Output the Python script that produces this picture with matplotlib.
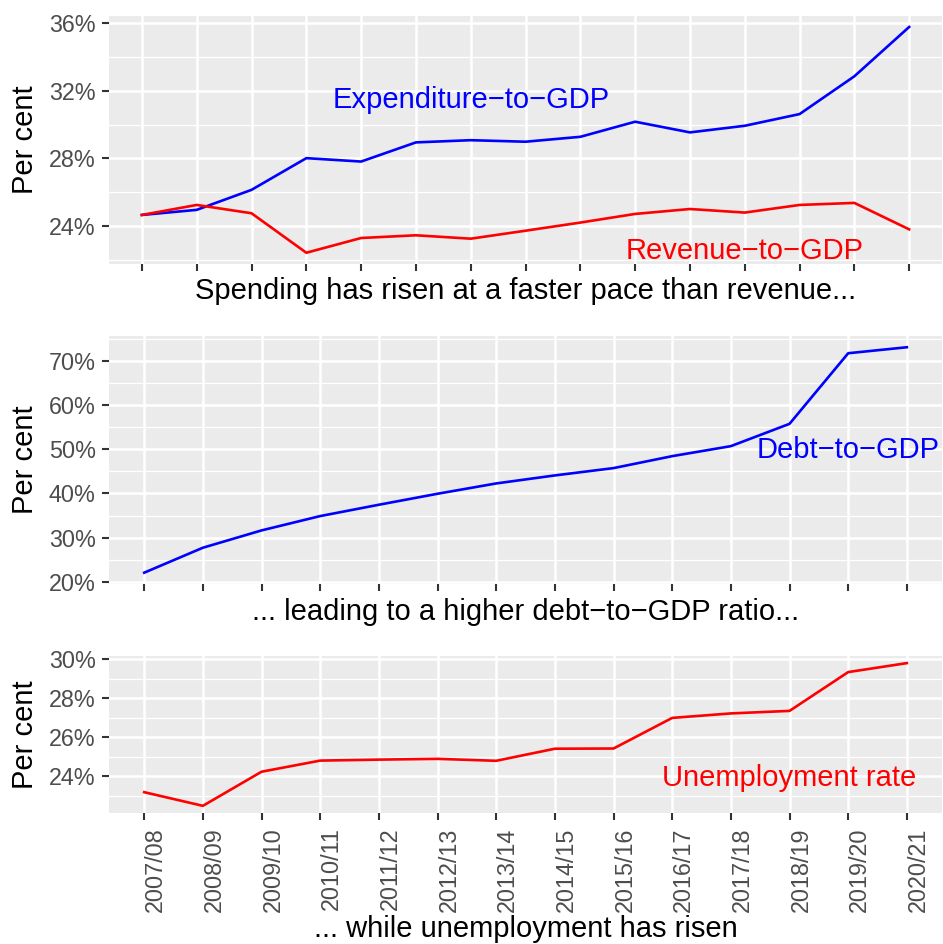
import numpy as np
import matplotlib.pyplot as plt
from matplotlib.ticker import MultipleLocator, FuncFormatter

plt.rcParams['font.family'] = ['Liberation Sans', 'DejaVu Sans']

# financial years
years_long = ['2006/07', '2007/08', '2008/09', '2009/10', '2010/11', '2011/12', '2012/13',
              '2013/14', '2014/15', '2015/16', '2016/17', '2017/18', '2018/19', '2019/20', '2020/21']
years = years_long[1:]

# top panel (per cent of GDP)
expenditure = [24.67, 24.97, 26.15, 28.02, 27.82, 28.95, 29.08, 28.99, 29.28, 30.17,
               29.54, 29.93, 30.62, 32.85, 35.76]
revenue = [24.67, 25.26, 24.77, 22.44, 23.31, 23.47, 23.27, 23.74, 24.22, 24.73,
           25.02, 24.81, 25.26, 25.38, 23.82]

# middle panel
debt = [22.04, 27.70, 31.63, 34.88, 37.45, 39.94, 42.28, 44.10, 45.76, 48.47,
        50.74, 55.80, 71.81, 73.17]

# bottom panel
unemployment = [23.17, 22.47, 24.22, 24.79, 24.84, 24.88, 24.78, 25.40, 25.41, 26.98,
                27.21, 27.34, 29.33, 29.79]

captions = ['Spending has risen at a faster pace than revenue...',
            '... leading to a higher debt\u2212to\u2212GDP ratio...',
            '... while unemployment has risen']

BLUE = '#0000FF'
RED = '#FF0000'
BG = '#EBEBEB'
TXT = 21
TICK = 16.8
LW = 1.9


def style(ax, n, major, caption, cap_y):
    ax.set_facecolor(BG)
    for s in ax.spines.values():
        s.set_visible(False)
    ax.set_xlim(-0.6, n - 0.4)
    ax.yaxis.set_major_locator(MultipleLocator(major))
    ax.yaxis.set_minor_locator(MultipleLocator(major / 2))
    ax.yaxis.set_major_formatter(FuncFormatter(lambda v, p: f'{v:.0f}%'))
    ax.grid(which='major', color='white', lw=1.8)
    ax.grid(which='minor', axis='y', color='white', lw=0.9)
    ax.set_axisbelow(True)
    ax.tick_params(which='major', length=4.8, width=1.5, color='#333333',
                   labelsize=TICK, labelcolor='#4D4D4D', pad=4.7)
    ax.tick_params(which='minor', length=0)
    ax.set_ylabel('Per cent', fontsize=TXT)
    ax.yaxis.set_label_coords(-0.1013, 0.5)
    ax.yaxis.label.set_va('center')
    ax.set_xlabel(caption, fontsize=TXT)
    ax.xaxis.set_label_coords(0.5, cap_y)
    ax.xaxis.label.set_va('baseline')


fig = plt.figure(figsize=(9.43, 9.44), dpi=100)

ax1 = fig.add_axes([0.1156, 0.7203, 0.8834, 0.2631])
ax1.plot(years_long, expenditure, color=BLUE, lw=LW)
ax1.plot(years_long, revenue, color=RED, lw=LW)
style(ax1, len(years_long), 4, captions[0], -0.142)
ax1.tick_params(axis='x', labelbottom=False)
ax1.text(6, 31.45, 'Expenditure\u2212to\u2212GDP', color=BLUE, fontsize=TXT,
         ha='center', va='center')
ax1.text(11, 22.56, 'Revenue\u2212to\u2212GDP', color=RED, fontsize=TXT,
         ha='center', va='center')

ax2 = fig.add_axes([0.1156, 0.3814, 0.8834, 0.2627])
ax2.plot(years, debt, color=BLUE, lw=LW)
style(ax2, len(years), 10, captions[1], -0.145)
ax2.tick_params(axis='x', labelbottom=False)
ax2.text(12, 49.9, 'Debt\u2212to\u2212GDP', color=BLUE, fontsize=TXT,
         ha='center', va='center')

ax3 = fig.add_axes([0.1156, 0.1388, 0.8834, 0.1663])
ax3.plot(years, unemployment, color=RED, lw=LW)
style(ax3, len(years), 2, captions[2], -0.793)
ax3.tick_params(axis='x', pad=5.5)
for lab in ax3.get_xticklabels():
    lab.set_rotation(90)
    lab.set_rotation_mode('anchor')
    lab.set_ha('right')
    lab.set_va('top')
ax3.text(11, 23.9, 'Unemployment rate', color=RED, fontsize=TXT,
         ha='center', va='center')

fig.savefig('out.png', dpi=100)
